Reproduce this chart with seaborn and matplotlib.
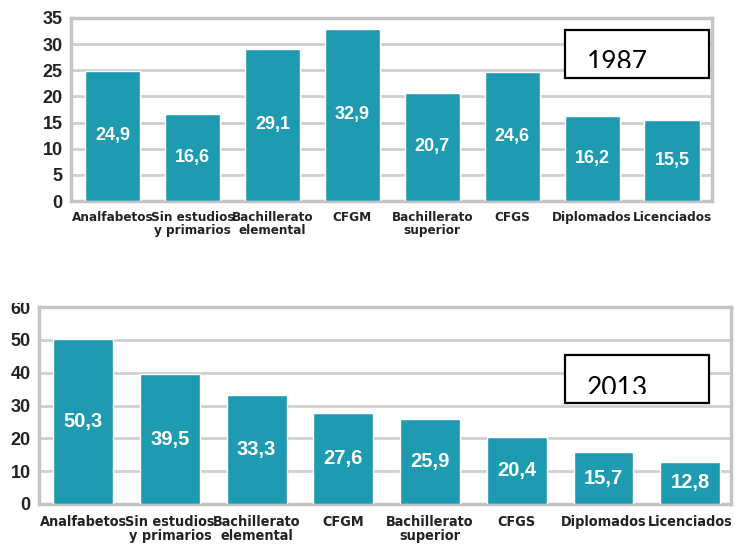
import matplotlib
matplotlib.use('Agg')
import matplotlib.pyplot as plt
from matplotlib import font_manager as fm
import seaborn as sns
import pandas as pd
from matplotlib.patches import Rectangle

categories = ['Analfabetos', 'Sin estudios\ny primarios', 'Bachillerato\nelemental', 'CFGM',
              'Bachillerato\nsuperior', 'CFGS', 'Diplomados', 'Licenciados']
values_1987 = [24.9, 16.6, 29.1, 32.9, 20.7, 24.6, 16.2, 15.5]
values_2013 = [50.3, 39.5, 33.3, 27.6, 25.9, 20.4, 15.7, 12.8]
yticks_1987 = [0, 5, 10, 15, 20, 25, 30, 35]
yticks_2013 = [0, 10, 20, 30, 40, 50, 60]

BAR = '#1f9bb1'
FRAME = '#c4c4c4'
GRID = '#cfcfcf'
W, H = 735, 551

sns.set_theme(style='white')
plt.rcParams['font.family'] = ['Liberation Sans', 'DejaVu Sans']

# narrow face for the category labels, if one is installed
font_names = {f.name for f in fm.fontManager.ttflist}
has_condensed = any(f.name == 'DejaVu Sans' and f.stretch == 'condensed' for f in fm.fontManager.ttflist)
if 'Liberation Sans Narrow' in font_names:
    narrow = dict(family='Liberation Sans Narrow', stretch='normal', scale=0.9)
elif has_condensed:
    narrow = dict(family='DejaVu Sans', stretch='condensed', scale=0.84)
else:
    narrow = dict(family='Liberation Sans', stretch='normal', scale=0.8)

fig = plt.figure(figsize=(W / 100, H / 100), dpi=100)


def px_rect(x0, y0, x1, y1):
    """Pixel box (top-left origin) -> figure fraction [left, bottom, width, height]."""
    return [x0 / W, 1 - y1 / H, (x1 - x0) / W, (y1 - y0) / H]


def draw_chart(rect, values, yticks, xlim, num_size, tick_size, xpad, year, box_px, clip_y, text_px):
    ax = fig.add_axes(px_rect(*rect))
    df = pd.DataFrame({'cat': categories, 'val': values})
    sns.barplot(data=df, x='cat', y='val', color=BAR, saturation=1, width=0.69, ax=ax, zorder=3)
    labels = [f'{v:.1f}'.replace('.', ',') for v in values]
    ax.bar_label(ax.containers[0], labels=labels, label_type='center', color='white',
                 fontsize=num_size, fontweight='bold')
    ax.set_xlim(*xlim)
    ax.set_ylim(yticks[0], yticks[-1])
    ax.set_yticks(yticks)
    ax.set_xlabel('')
    ax.set_ylabel('')
    ax.yaxis.grid(True, color=GRID, lw=2)
    ax.set_axisbelow(True)
    for sp in ax.spines.values():
        sp.set_visible(True)
        sp.set_color(FRAME)
        sp.set_linewidth(2.5)
    ax.tick_params(axis='y', length=4, width=2, color=FRAME, pad=2, labelsize=13, labelcolor='#222222')
    ax.tick_params(axis='x', length=0, pad=xpad, labelcolor='#222222')
    for t in ax.get_yticklabels():
        t.set_fontweight('bold')
    for t in ax.get_xticklabels():
        t.set_family(narrow['family'])
        t.set_stretch(narrow['stretch'])
        t.set_fontweight('bold')
        t.set_fontsize(tick_size * narrow['scale'])
        t.set_linespacing(1.0)

    # year box
    box = Rectangle((box_px[0] / W, 1 - box_px[3] / H), (box_px[2] - box_px[0]) / W,
                    (box_px[3] - box_px[1]) / H, transform=fig.transFigure,
                    facecolor='white', edgecolor='black', lw=1.6, zorder=5)
    fig.patches.append(box)
    clip = Rectangle((box_px[0] / W, 1 - clip_y / H), (box_px[2] - box_px[0]) / W,
                     (clip_y - box_px[1]) / H, transform=fig.transFigure,
                     facecolor='none', edgecolor='none')
    fig.patches.append(clip)
    txt = fig.text(text_px[0] / W, 1 - text_px[1] / H, year, fontsize=19, family=['Lato', 'DejaVu Sans'],
                   color='black', va='baseline', ha='left', zorder=6)
    txt.set_clip_path(clip)
    return ax


draw_chart((71, 18, 712, 201), values_1987, yticks_1987, (-0.52, 7.5), 13, 11.5, 7,
           '1987', (565, 30, 709, 78), 68, (587, 70))
draw_chart((39, 307, 731, 504), values_2013, yticks_2013, (-0.51, 7.47), 14.5, 12.3, 8,
           '2013', (565, 355, 709, 403), 394, (587, 396))

# the lower picture was cropped through its top tick label
fig.patches.append(Rectangle((0, 1 - 303 / H), 36 / W, 20 / H, transform=fig.transFigure,
                             facecolor='white', edgecolor='none', zorder=10))

fig.savefig('out.png', dpi=100)
